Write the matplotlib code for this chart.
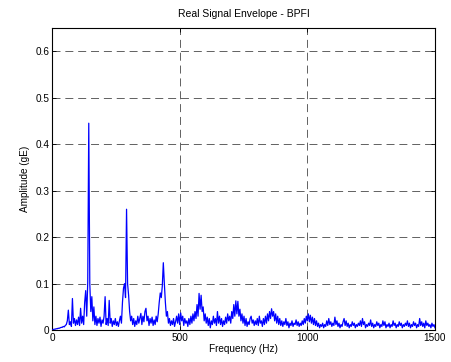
import numpy as np
import matplotlib
matplotlib.use("Agg")
import matplotlib.pyplot as plt

plt.rcParams['font.family'] = ['Liberation Sans', 'DejaVu Sans']

title = "Real Signal Envelope - BPFI"
xlabel = "Frequency (Hz)"
ylabel = "Amplitude (gE)"
freq_step_hz = 4
xticks = [0, 500, 1000, 1500]
yticks = [0, 0.1, 0.2, 0.3, 0.4, 0.5, 0.6]
ytick_labels = ["0", "0.1", "0.2", "0.3", "0.4", "0.5", "0.6"]

# amplitude (gE) sampled every 4 Hz, one row per 100 Hz
amp_0000 = [0.0, 0.001, 0.002, 0.002, 0.003, 0.003, 0.004, 0.004, 0.005, 0.006, 0.006, 0.008, 0.007,
            0.010, 0.012, 0.020, 0.043, 0.012, 0.018, 0.008, 0.068, 0.015, 0.025, 0.010, 0.022]
amp_0100 = [0.012, 0.028, 0.010, 0.047, 0.015, 0.030, 0.012, 0.060, 0.085, 0.030, 0.103, 0.445, 0.100,
            0.040, 0.072, 0.020, 0.050, 0.012, 0.030, 0.010, 0.025, 0.015, 0.028, 0.008, 0.022]
amp_0200 = [0.015, 0.030, 0.072, 0.012, 0.025, 0.010, 0.064, 0.015, 0.025, 0.008, 0.020, 0.012, 0.025,
            0.010, 0.018, 0.008, 0.020, 0.030, 0.015, 0.060, 0.090, 0.100, 0.070, 0.260, 0.100]
amp_0300 = [0.075, 0.040, 0.020, 0.030, 0.012, 0.025, 0.008, 0.020, 0.012, 0.030, 0.015, 0.025, 0.036,
            0.012, 0.030, 0.018, 0.040, 0.047, 0.020, 0.030, 0.010, 0.025, 0.015, 0.028, 0.010]
amp_0400 = [0.022, 0.012, 0.030, 0.018, 0.035, 0.060, 0.080, 0.070, 0.095, 0.145, 0.100, 0.060, 0.030,
            0.040, 0.015, 0.025, 0.010, 0.020, 0.012, 0.025, 0.008, 0.018, 0.030, 0.015, 0.035]
amp_0500 = [0.012, 0.037, 0.020, 0.030, 0.010, 0.025, 0.015, 0.020, 0.008, 0.025, 0.012, 0.030, 0.015,
            0.035, 0.020, 0.040, 0.025, 0.055, 0.030, 0.079, 0.045, 0.075, 0.040, 0.050, 0.020]
amp_0600 = [0.035, 0.015, 0.028, 0.010, 0.025, 0.005, 0.020, 0.012, 0.030, 0.015, 0.025, 0.010, 0.040,
            0.015, 0.030, 0.012, 0.025, 0.008, 0.020, 0.012, 0.028, 0.015, 0.035, 0.020, 0.030]
amp_0700 = [0.015, 0.040, 0.025, 0.055, 0.030, 0.063, 0.035, 0.062, 0.030, 0.045, 0.020, 0.035, 0.015,
            0.030, 0.010, 0.025, 0.008, 0.018, 0.012, 0.025, 0.030, 0.015, 0.022, 0.010, 0.020]
amp_0800 = [0.012, 0.025, 0.010, 0.030, 0.015, 0.020, 0.008, 0.025, 0.012, 0.030, 0.015, 0.035, 0.020,
            0.040, 0.025, 0.046, 0.030, 0.040, 0.020, 0.035, 0.015, 0.030, 0.012, 0.025, 0.010]
amp_0900 = [0.020, 0.008, 0.018, 0.012, 0.025, 0.010, 0.018, 0.005, 0.015, 0.010, 0.020, 0.008, 0.015,
            0.012, 0.022, 0.010, 0.018, 0.008, 0.015, 0.010, 0.020, 0.012, 0.025, 0.015, 0.030]
amp_1000 = [0.020, 0.035, 0.018, 0.032, 0.015, 0.028, 0.012, 0.025, 0.010, 0.020, 0.008, 0.015, 0.005,
            0.012, 0.008, 0.015, 0.005, 0.012, 0.008, 0.020, 0.010, 0.025, 0.012, 0.018, 0.008]
amp_1100 = [0.015, 0.010, 0.028, 0.012, 0.020, 0.008, 0.015, 0.005, 0.012, 0.008, 0.018, 0.025, 0.010,
            0.020, 0.008, 0.015, 0.005, 0.012, 0.008, 0.018, 0.010, 0.015, 0.005, 0.012, 0.008]
amp_1200 = [0.015, 0.010, 0.020, 0.008, 0.025, 0.012, 0.018, 0.005, 0.012, 0.008, 0.015, 0.010, 0.022,
            0.008, 0.015, 0.005, 0.012, 0.008, 0.018, 0.010, 0.015, 0.005, 0.012, 0.008, 0.020]
amp_1300 = [0.010, 0.018, 0.005, 0.012, 0.008, 0.015, 0.005, 0.012, 0.008, 0.020, 0.010, 0.015, 0.005,
            0.012, 0.008, 0.018, 0.010, 0.015, 0.005, 0.012, 0.008, 0.015, 0.010, 0.020, 0.008]
amp_1400 = [0.015, 0.005, 0.012, 0.008, 0.018, 0.010, 0.015, 0.005, 0.012, 0.008, 0.025, 0.010, 0.018,
            0.008, 0.015, 0.005, 0.020, 0.010, 0.015, 0.008, 0.012, 0.005, 0.015, 0.008, 0.012, 0.005]

amplitude = np.array(amp_0000 + amp_0100 + amp_0200 + amp_0300 + amp_0400 + amp_0500 + amp_0600
                     + amp_0700 + amp_0800 + amp_0900 + amp_1000 + amp_1100 + amp_1200 + amp_1300
                     + amp_1400)
frequency = np.arange(len(amplitude)) * freq_step_hz

fig = plt.figure(figsize=(4.51, 3.62), dpi=100)
ax = fig.add_axes([0.1153, 0.088, 0.8492, 0.835])

ax.plot(frequency, amplitude, color=(0, 0, 1), linewidth=0.9, zorder=3)

ax.set_xlim(0, 1500)
ax.set_ylim(0, 0.65)
ax.set_xticks(xticks)
ax.set_xticklabels([str(t) for t in xticks])
ax.set_yticks(yticks)
ax.set_yticklabels(ytick_labels)

ax.grid(True, color='#222222', linestyle=(0, (11.5, 7)), linewidth=0.5, zorder=1)
ax.tick_params(direction='in', length=3, width=0.6, labelsize=7.2, pad=2,
               top=True, right=True, colors='black')
for sp in ax.spines.values():
    sp.set_linewidth(0.8)
    sp.set_color('black')

ax.set_title(title, fontsize=7.5, pad=8)
ax.set_xlabel(xlabel, fontsize=7.2, labelpad=1)
ax.set_ylabel(ylabel, fontsize=7.2, labelpad=4)

fig.savefig("out.png", dpi=100)
